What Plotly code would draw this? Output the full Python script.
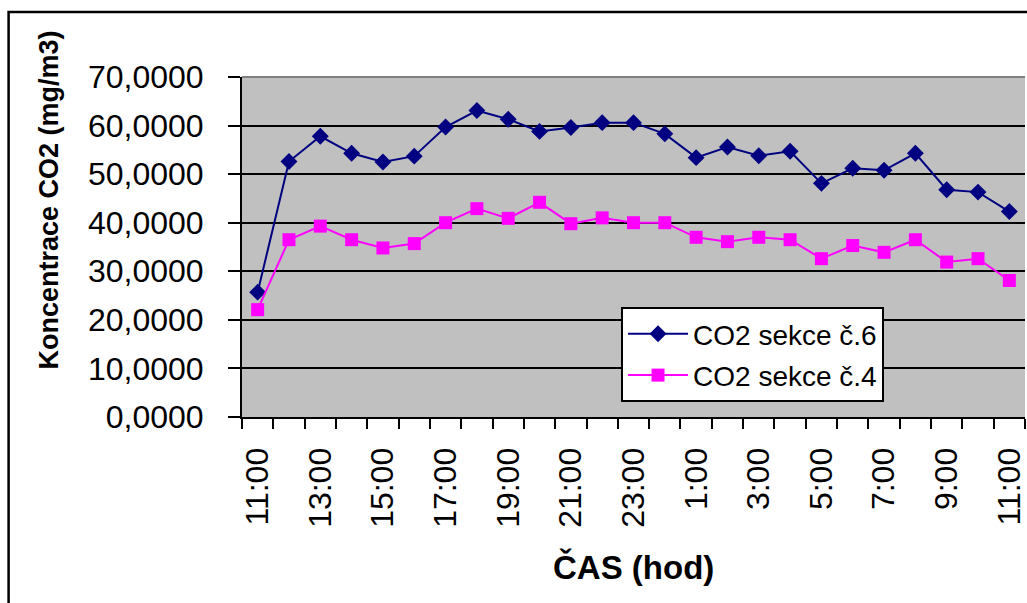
import plotly.graph_objects as go

times = ["11:00", "12:00", "13:00", "14:00", "15:00", "16:00", "17:00", "18:00",
         "19:00", "20:00", "21:00", "22:00", "23:00", "0:00", "1:00", "2:00",
         "3:00", "4:00", "5:00", "6:00", "7:00", "8:00", "9:00", "10:00", "11:00"]

co2_sekce6 = [25.7, 52.6, 57.8, 54.3, 52.5, 53.7, 59.7, 63.1, 61.3, 58.8, 59.6, 60.6,
              60.6, 58.3, 53.4, 55.6, 53.8, 54.7, 48.1, 51.2, 50.8, 54.3, 46.8, 46.3, 42.3]

co2_sekce4 = [22.1, 36.5, 39.3, 36.5, 34.8, 35.7, 40.0, 42.9, 40.9, 44.2, 39.8, 41.0,
              40.0, 40.0, 37.0, 36.1, 37.0, 36.5, 32.6, 35.3, 33.9, 36.5, 31.9, 32.6, 28.1]

y_ticks = [0, 10, 20, 30, 40, 50, 60, 70]
y_labels = ["0,0000", "10,0000", "20,0000", "30,0000", "40,0000", "50,0000", "60,0000", "70,0000"]

W, H = 1027, 603
L, T, R, B = 242, 77, 0, 186
PW = W - L - R
PH = H - T - B

def px(xpix):
    return (xpix - L) / PW

def py(ypix):
    return (H - B - ypix) / PH

FONT = "Arial, Liberation Sans, sans-serif"
xs = list(range(len(times)))
x_tickvals = xs[::2]
x_ticktext = [times[i] for i in x_tickvals]

fig = go.Figure()
fig.add_trace(go.Scatter(
    x=xs, y=co2_sekce6, mode="lines+markers", name="CO2 sekce č.6",
    line=dict(color="#000080", width=2),
    marker=dict(symbol="diamond", size=13, color="#000080"),
    legendgroup="a"))
fig.add_trace(go.Scatter(
    x=xs, y=co2_sekce4, mode="lines+markers", name="CO2 sekce č.4",
    line=dict(color="#FF00FF", width=2),
    marker=dict(symbol="square", size=13, color="#FF00FF"),
    legendgroup="b"))

fig.update_layout(
    width=W, height=H,
    margin=dict(l=L, r=R, t=T, b=B, pad=0),
    paper_bgcolor="white", plot_bgcolor="#C0C0C0",
    font=dict(family=FONT, color="black"),
    showlegend=True,
    legend=dict(x=px(622), y=py(307), xanchor="left", yanchor="top",
                bgcolor="white", bordercolor="black", borderwidth=2,
                font=dict(size=28, family=FONT), itemwidth=60,
                tracegroupgap=2),
    xaxis=dict(range=[-0.5, len(times) - 0.5], tickvals=x_tickvals, ticktext=x_ticktext,
               tickangle=-90, ticks="", ticklabelstandoff=16,
               ticklabeloverflow="allow",
               tickfont=dict(size=32, family=FONT),
               minor=dict(tick0=-0.5, dtick=1, ticks="outside", ticklen=10,
                          tickwidth=2, tickcolor="black", showgrid=False),
               showgrid=False, zeroline=False,
               showline=True, linecolor="black", linewidth=2),
    yaxis=dict(range=[0, 70], tickvals=y_ticks, ticktext=y_labels,
               ticks="outside", ticklen=12, tickwidth=2, tickcolor="black",
               ticklabelstandoff=18,
               tickfont=dict(size=32, family=FONT),
               showgrid=True, gridcolor="black", gridwidth=2,
               zeroline=False, showline=True, linecolor="black", linewidth=2),
)

fig.add_annotation(text="<b>Koncentrace CO2 (mg/m3)</b>", textangle=-90,
                   x=px(49), y=py(200), xref="paper", yref="paper",
                   xanchor="center", yanchor="middle", showarrow=False,
                   font=dict(size=27, family=FONT, color="black"))
fig.add_annotation(text="<b>ČAS (hod)</b>",
                   x=px(635), y=py(567), xref="paper", yref="paper",
                   xanchor="center", yanchor="middle", showarrow=False,
                   font=dict(size=33, family=FONT, color="black"))

fig.add_shape(type="rect", xref="paper", yref="paper",
              x0=px(8), x1=px(1060), y0=py(640), y1=py(12),
              line=dict(color="black", width=2.5), fillcolor="rgba(0,0,0,0)")
fig.add_shape(type="line", xref="paper", yref="paper",
              x0=0, x1=1, y0=1, y1=1, line=dict(color="#808080", width=2))

fig.write_html("out.html")
